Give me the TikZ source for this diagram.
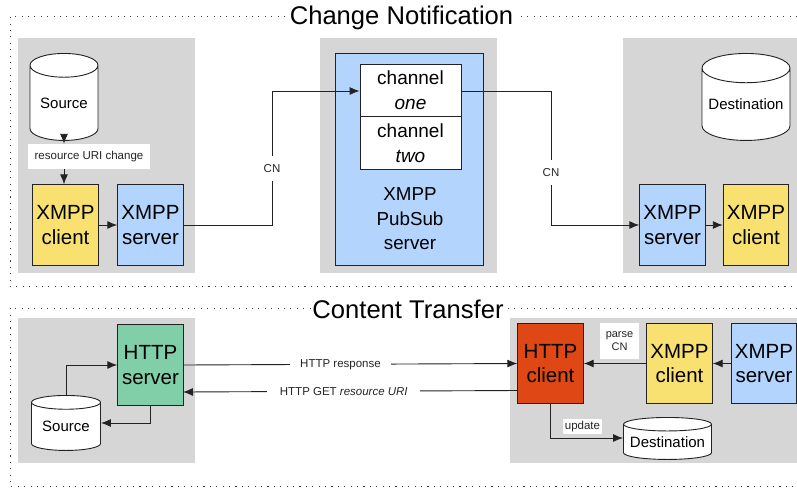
\documentclass[tikz,border=0pt]{standalone}
\usepackage{xcolor}
\usepackage{fontspec}
\setmainfont{Liberation Sans}
\usetikzlibrary{arrows.meta}
\usetikzlibrary{shapes.geometric}
\definecolor{panelgrey}{HTML}{D6D6D6}
\definecolor{xmppblue}{HTML}{B3D4FC}
\definecolor{xmppyellow}{HTML}{F8E171}
\definecolor{httpgreen}{HTML}{80CFA9}
\definecolor{httpred}{HTML}{DF4814}
\definecolor{inkline}{HTML}{222222}
\tikzset{edge/.style = {-{Latex[length=10pt,width=8pt]},line width=0.9pt,draw=inkline}}

\begin{document}
\begin{tikzpicture}[x=1pt,y=-1pt,
    frame/.style={draw=black!75,line width=1pt,dash pattern=on 1.1pt off 5.3pt},
    panel/.style={fill=panelgrey,draw=none},
    sbox/.style={draw=inkline,line width=0.9pt,minimum width=65.5pt,minimum height=80.5pt,align=center,inner sep=0pt,font=\fontsize{20.5}{24.5}\selectfont},
    chbox/.style={draw=inkline,fill=white,line width=0.9pt,minimum width=101pt,minimum height=52.5pt,align=center,inner sep=0pt,font=\fontsize{19}{25}\selectfont},
    store/.style={cylinder,shape border rotate=90,anchor=north,draw=inkline,fill=white,line width=0.9pt,inner sep=0pt,font=\fontsize{15}{17}\selectfont},
    title/.style={fill=white,inner sep=1.5pt,font=\fontsize{25.6}{30}\selectfont},
    tag/.style={fill=white,text=black!85,inner sep=0pt,align=center,font=\fontsize{11.5}{13.5}\selectfont}]
    \useasboundingbox (0,0) rectangle (797,487);

    % frames and grey panels
    \draw[frame] (797,17) -- (10,17) -- (10,286) -- (797,286);
    \draw[frame] (797,308) -- (10,308) -- (10,486) -- (797,486);
    \node[title] (t1) at (401.5,18) {Change Notification};
    \node[title] (t2) at (408,309) {Content Transfer};
    \fill[panel] (18,38) rectangle (195,273);
    \fill[panel] (320,38) rectangle (497,273);
    \fill[panel] (623,38) rectangle (797,273);
    \fill[panel] (18,318) rectangle (195,463);
    \fill[panel] (509.5,318) rectangle (797,463);

    % change notification
    \node[store,shape aspect=0.5,minimum width=68pt,minimum height=87pt] (src1) at (64,53) {Source};
    \node[sbox,fill=xmppyellow] (cl1) at (65.5,225) {XMPP\\client};
    \node[sbox,fill=xmppblue] (sv1) at (150.5,225) {XMPP\\server};
    \node[draw=inkline,fill=xmppblue,line width=0.9pt,minimum width=148pt,minimum height=212pt] (pubsub) at (409,159) {};
    \node[font=\fontsize{18.8}{24.5}\selectfont,align=center] (pslabel) at (410,219) {XMPP\\PubSub\\server};
    \node[chbox] (ch1) at (410.5,90.5) {channel\\\textit{one}};
    \node[chbox] (ch2) at (410.5,143) {channel\\\textit{two}};
    \node[store,shape aspect=0.39,minimum width=88pt,minimum height=87pt] (dst1) at (746,53) {Destination};
    \node[sbox,fill=xmppblue] (sv2) at (672.5,225) {XMPP\\server};
    \node[sbox,fill=xmppyellow] (cl2) at (756,225) {XMPP\\client};

    \node[tag,minimum width=122pt,minimum height=25pt] (rsc) at (89,156.5) {resource URI change};
    \draw[edge] (src1.south) -- (rsc.north -| src1.south);
    \draw[edge] (rsc.south -| src1.south) -- (src1.south |- cl1.north);
    \draw[edge] (cl1) -- (sv1);
    \coordinate (up1) at (272,225);
    \coordinate (up2) at (272,91);
    \draw[edge] (sv1.east) -- (up1) -- node[tag,pos=0.42,minimum width=17pt,minimum height=25pt] (cn1) {CN} (up2) -- (ch1.west |- up2);
    \coordinate (dn1) at (551,91);
    \coordinate (dn2) at (551,225);
    \draw[edge] (ch1.east |- dn1) -- (dn1) -- node[tag,pos=0.61,minimum width=17pt,minimum height=25pt] (cn2) {CN} (dn2) -- (sv2.west);
    \draw[edge] (sv2) -- (cl2);

    % content transfer
    \node[sbox,fill=httpgreen] (hs) at (150.5,365) {HTTP\\server};
    \node[store,shape aspect=0.29,minimum width=69pt,minimum height=55pt] (src2) at (66,395) {Source};
    \node[sbox,fill=httpred] (hc) at (550.5,363.5) {HTTP\\client};
    \node[sbox,fill=xmppyellow] (cl3) at (679.5,363.5) {XMPP\\client};
    \node[sbox,fill=xmppblue] (sv3) at (764,363.5) {XMPP\\server};
    \node[store,shape aspect=0.18,minimum width=88pt,minimum height=42pt] (dst2) at (667.5,417) {Destination};

    \coordinate (b1) at (66,365);
    \draw[edge] (src2.north) -- (b1) -- (b1 -| hs.west);
    \coordinate (b2) at (150.5,423);
    \draw[edge] (hs.south) -- (b2) -- (b2 -| src2.east);
    \draw[edge] (hs.east) -- node[tag,pos=0.47,minimum width=101pt,minimum height=14pt] (resp) {HTTP response} (hc.west);
    \coordinate (g1) at (518,390.5);
    \coordinate (g2) at (183,392);
    \draw[edge] (g1) -- node[tag,pos=0.52,minimum width=153pt,minimum height=14pt] (get) {HTTP GET \textit{resource URI}} (g2);
    \draw[edge] (cl3.west) -- (hc.east);
    \draw[edge] (sv3.west) -- (cl3.east);
    \node[tag,minimum width=39pt,minimum height=36pt,font=\fontsize{11}{12.5}\selectfont] (pcn) at (619.5,341) {parse\\CN};
    \coordinate (u1) at (550.5,438);
    \draw[edge] (hc.south) -- (u1) -- (dst2.west |- u1);
    \node[tag,minimum width=39pt,minimum height=15pt] (upd) at (582.5,426.5) {update};
\end{tikzpicture}
\end{document}
